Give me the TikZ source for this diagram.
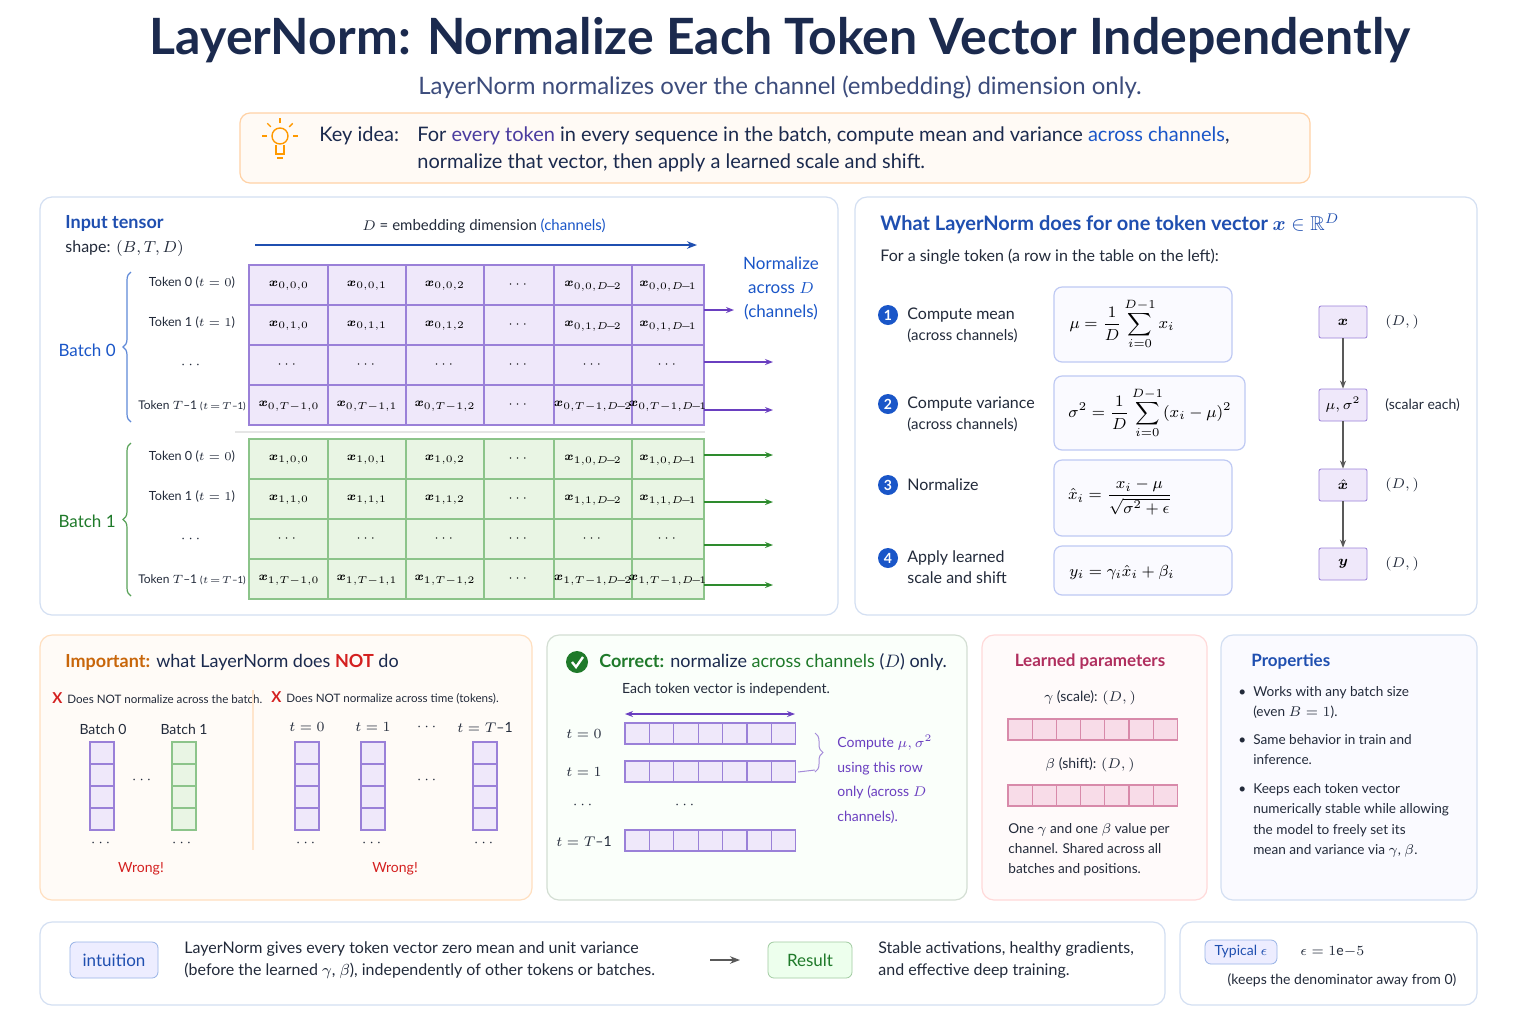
\documentclass[tikz,border=0pt]{standalone}
\usepackage{amsmath,amssymb,bm}
\usepackage{fontspec}
\setmainfont{Lato}
\usetikzlibrary{decorations.pathreplacing,arrows.meta,calc}
\definecolor{navy}{HTML}{1B2A4E}
\definecolor{subc}{HTML}{3C4C7C}
\definecolor{blueT}{HTML}{1F4FB0}
\definecolor{blueL}{HTML}{1A56C8}
\definecolor{purp}{HTML}{6A3FC0}
\definecolor{gridP}{HTML}{EFE8FA}
\definecolor{lineP}{HTML}{9A80D8}
\definecolor{gridG}{HTML}{E9F5E4}
\definecolor{lineG}{HTML}{8CC48A}
\definecolor{greenT}{HTML}{2E8B2E}
\definecolor{greenD}{HTML}{1F7A2A}
\definecolor{orangeT}{HTML}{C8660A}
\definecolor{redT}{HTML}{D42020}
\definecolor{magT}{HTML}{B02E5E}
\definecolor{panelB}{HTML}{D3DFF2}
\definecolor{pinkF}{HTML}{F8DCE8}
\definecolor{pinkL}{HTML}{D88AAA}
\definecolor{txt}{HTML}{222A3A}
\tikzset{
  every node/.style={inner sep=1pt},
  panel/.style={draw=panelB, fill=white, rounded corners=6pt, line width=0.6pt},
  fbox/.style={draw=panelB!90!blue, fill=blue!2, rounded corners=4pt, line width=0.6pt},
  lab/.style={font=\fontsize{7}{8.5}\selectfont, text=txt, inner sep=0pt},
  flow/.style={draw=lineP, fill=gridP, minimum width=24pt, minimum height=16pt, rounded corners=1pt, font=\fontsize{7.5}{9}\selectfont},
  num/.style={circle, fill=blueL, text=white, inner sep=0pt, minimum size=10pt, font=\bfseries\fontsize{7}{8}\selectfont},
  arrP/.style={-{Stealth[length=4pt]}, draw=purp, line width=0.7pt},
  arrG/.style={-{Stealth[length=4pt]}, draw=greenT, line width=0.7pt},
  cellt/.style={font=\fontsize{6.3}{7}\selectfont},
}
\begin{document}
\begin{tikzpicture}[x=0.5pt,y=-0.5pt]
\useasboundingbox (0,0) rectangle (1536,1024);
\fill[white] (0,0) rectangle (1536,1024);
% title
\node[font=\bfseries\fontsize{25}{28}\selectfont, text=navy] (title) at (780,40) {LayerNorm: Normalize Each Token Vector Independently};
\node[font=\fontsize{12}{14}\selectfont, text=subc] (sub) at (780,87) {LayerNorm normalizes over the channel (embedding) dimension only.};
% key idea
\draw[draw=orange!35, fill=orange!4, rounded corners=5pt, line width=0.6pt] (240,113) rectangle (1310,183);
\begin{scope}[draw=orange!80!yellow, line width=0.7pt]
\draw (280,136) circle (8);
\draw (276,145) -- (276,154) -- (284,154) -- (284,145);
\draw (277,158) -- (283,158);
\foreach \a in {0,45,90,135,180} \draw ($(280,136)+(\a+180:13)$) -- ($(280,136)+(\a+180:18)$);
\end{scope}
\node[anchor=west, font=\fontsize{10}{12}\selectfont, text=navy] (ki) at (317,136) {Key idea:};
\node[anchor=west, font=\fontsize{10}{12}\selectfont, text=navy] (k1) at (415,136) {For \textcolor{blueL!70!purple}{every token} in every sequence in the batch, compute mean and variance \textcolor{blueL}{across channels},};
\node[anchor=west, font=\fontsize{10}{12}\selectfont, text=navy] (k2) at (415,163) {normalize that vector, then apply a learned scale and shift.};
% left panel
\draw[panel] (40,197) rectangle (838,615);
\node[anchor=west, font=\bfseries\fontsize{9}{11}\selectfont, text=blueT] (it) at (63,223) {Input tensor};
\node[anchor=west, font=\fontsize{8}{10}\selectfont, text=txt] (sh) at (63,248) {shape: $(B,T,D)$};
\node[font=\fontsize{7.5}{9}\selectfont, text=txt] (dd) at (484,226) {$D$ = embedding dimension \textcolor{blueL}{(channels)}};
\coordinate (da) at (255,245); \coordinate (db) at (697,245);
\draw[-{Stealth[length=5pt]}, blueT, line width=0.7pt] (da) -- (db);
\node[align=center, font=\fontsize{8.5}{12}\selectfont, text=blueL] (nd) at (781,288) {Normalize\\across $D$\\(channels)};
\draw[gray!20, line width=1pt] (235,432) -- (705,432);
% grids
\foreach \b/\top/\fc/\lc in {0/265/gridP/lineP,1/439/gridG/lineG}{
  \fill[\fc] (249,\top) rectangle (704,\top+160);
  \foreach \r/\tt in {0/0,1/1,2/d,3/T-1}{
    \pgfmathsetmacro{\yt}{\top+40*\r}
    \pgfmathsetmacro{\yc}{\top+40*\r+20}
    \foreach \xl/\xr in {249/328,328/406,406/484,484/554,554/632,632/704}
      \draw[\lc, line width=0.6pt] (\xl,\yt) rectangle (\xr,\yt+40);
    \node[cellt] at (519,\yc) {$\cdots$};
    \ifnum\r=2
      \foreach \xc in {288,367,445,593,668} \node[cellt] at (\xc,\yc) {$\cdots$};
    \else
      \node[cellt] at (289,\yc+1) {$\bm{x}_{\b,\tt,0}$};
      \node[cellt] at (367,\yc+1) {$\bm{x}_{\b,\tt,1}$};
      \node[cellt] at (445,\yc+1) {$\bm{x}_{\b,\tt,2}$};
      \node[cellt] at (593,\yc+1) {$\bm{x}_{\b,\tt,D\!-\!2}$};
      \node[cellt] at (668,\yc+1) {$\bm{x}_{\b,\tt,D\!-\!1}$};
    \fi
  }
  \node[lab, anchor=center, font=\fontsize{6.3}{8}\selectfont] at (192,\top+18) {Token 0 ($t=0$)};
  \node[lab, anchor=center, font=\fontsize{6.3}{8}\selectfont] at (192,\top+58) {Token 1 ($t=1$)};
  \node[lab, anchor=center] at (192,\top+100) {$\cdots$};
  \node[lab, anchor=center, font=\fontsize{6}{8}\selectfont] at (192,\top+141) {Token $T$--1 {\fontsize{4.8}{6}\selectfont($t\!=\!T$--1)}};
}
\draw[decorate, decoration={brace, amplitude=4pt}, blueL!70, line width=0.6pt] (131,422) -- (131,272);
\draw[decorate, decoration={brace, amplitude=4pt}, greenT!80, line width=0.6pt] (131,596) -- (131,443);
\node[anchor=east, font=\fontsize{8.5}{11}\selectfont, text=blueL] (b0) at (118,350) {Batch 0};
\node[anchor=east, font=\fontsize{8.5}{11}\selectfont, text=greenD] (b1) at (118,521) {Batch 1};
\coordinate (p1a) at (704,310); \coordinate (p1b) at (734,310);
\coordinate (p2a) at (704,362); \coordinate (p2b) at (773,362);
\coordinate (p3a) at (704,410); \coordinate (p3b) at (773,410);
\draw[arrP] (p1a) -- (p1b); \draw[arrP] (p2a) -- (p2b); \draw[arrP] (p3a) -- (p3b);
\foreach \y in {455,502,545,585}{\coordinate (ga\y) at (704,\y); \coordinate (gb\y) at (773,\y); \draw[arrG] (ga\y) -- (gb\y);}
% right panel
\draw[panel] (855,197) rectangle (1477,615);
\node[anchor=west, font=\bfseries\fontsize{10}{12}\selectfont, text=blueT] (rt) at (878,224) {What LayerNorm does for one token vector $\bm{x}\in\mathbb{R}^D$};
\node[anchor=west, font=\fontsize{8}{10}\selectfont, text=txt] (rs) at (878,257) {For a single token (a row in the table on the left):};
\node[num] (n1) at (888,315) {1};
\node[num] (n2) at (888,404) {2};
\node[num] (n3) at (888,485) {3};
\node[num] (n4) at (888,558) {4};
\node[anchor=north west, align=left, font=\fontsize{8}{10.5}\selectfont, text=txt] at (905,305) {Compute mean\\{\fontsize{7.5}{10}\selectfont(across channels)}};
\node[anchor=north west, align=left, font=\fontsize{8}{10.5}\selectfont, text=txt] at (905,394) {Compute variance\\{\fontsize{7.5}{10}\selectfont(across channels)}};
\node[anchor=west, font=\fontsize{8}{10.5}\selectfont, text=txt] at (905,485) {Normalize};
\node[anchor=north west, align=left, font=\fontsize{8}{10.5}\selectfont, text=txt] at (905,548) {Apply learned\\scale and shift};
\draw[fbox] (1054,287) rectangle (1232,362);
\draw[fbox] (1054,376) rectangle (1245,450);
\draw[fbox] (1054,460) rectangle (1232,536);
\draw[fbox] (1054,546) rectangle (1232,595);
\node[font=\fontsize{8}{10}\selectfont] (f1) at (1122,324) {$\displaystyle\mu=\frac{1}{D}\sum_{i=0}^{D-1}x_i$};
\node[font=\fontsize{8}{10}\selectfont] (f2) at (1150,413) {$\displaystyle\sigma^2=\frac{1}{D}\sum_{i=0}^{D-1}(x_i-\mu)^2$};
\node[font=\fontsize{8}{10}\selectfont] (f3) at (1120,497) {$\displaystyle\hat{x}_i=\frac{x_i-\mu}{\sqrt{\sigma^2+\epsilon}}$};
\node[font=\fontsize{8}{10}\selectfont] (f4) at (1122,572) {$y_i=\gamma_i\hat{x}_i+\beta_i$};
\node[flow] (fx) at (1343,322) {$\bm{x}$};
\node[flow] (fm) at (1343,405) {$\mu,\sigma^2$};
\node[flow] (fh) at (1343,485) {$\hat{\bm{x}}$};
\node[flow] (fy) at (1343,564) {$\bm{y}$};
\foreach \a/\b in {fx/fm,fm/fh,fh/fy} \draw[-{Stealth[length=4pt]}, gray!70!black, line width=0.6pt] (\a) -- (\b);
\node[anchor=west, lab] at (1385,322) {$(D,)$};
\node[anchor=west, lab] at (1385,405) {(scalar each)};
\node[anchor=west, lab] at (1385,485) {$(D,)$};
\node[anchor=west, lab] at (1385,564) {$(D,)$};
% important panel
\draw[draw=orange!25, fill=orange!3, rounded corners=6pt, line width=0.6pt] (40,635) rectangle (532,900);
\node[anchor=west, font=\fontsize{9}{11}\selectfont, text=navy] (imp) at (63,662) {\textcolor{orangeT}{\bfseries Important:} what LayerNorm does \textcolor{redT}{\bfseries NOT} do};
\node[anchor=west, font=\fontsize{5.8}{8}\selectfont, text=txt] at (50,698) {\textcolor{redT}{\bfseries\fontsize{7.5}{8}\selectfont X}\, Does NOT normalize across the batch.};
\node[anchor=west, font=\fontsize{5.8}{8}\selectfont, text=txt] at (269,698) {\textcolor{redT}{\bfseries\fontsize{7.5}{8}\selectfont X}\, Does NOT normalize across time (tokens).};
\draw[orange!20, line width=0.6pt] (253,690) -- (253,850);
\newcommand\vcol[3]{\foreach \k in {0,1,2,3} \draw[#2, fill=#3, line width=0.6pt] (#1,742+22*\k) rectangle (#1+24,764+22*\k);}
\vcol{90}{lineP}{gridP}\vcol{172}{lineG}{gridG}
\vcol{295}{lineP}{gridP}\vcol{361}{lineP}{gridP}\vcol{473}{lineP}{gridP}
\node[lab] at (103,729) {Batch 0};
\node[lab] at (184,729) {Batch 1};
\node[lab] at (307,727) {$t=0$};
\node[lab] at (373,727) {$t=1$};
\node[lab] at (428,727) {$\cdots$};
\node[lab] at (485,727) {$t=T$--1};
\foreach \x in {143,428} \node[lab] at (\x,780) {$\cdots$};
\foreach \x in {102,183,307,373,485} \node[lab] at (\x,843) {$\cdots$};
\node[lab, text=redT] at (141,869) {Wrong!};
\node[lab, text=redT] at (395,869) {Wrong!};
% correct panel
\draw[draw=green!15!gray!30, fill=green!2, rounded corners=6pt, line width=0.6pt] (547,635) rectangle (967,900);
\node[circle, fill=greenD, minimum size=11pt, inner sep=0pt] (chk) at (577,662) {};
\draw[white, line width=1.2pt] (572,662) -- (576,667) -- (583,657);
\node[anchor=west, font=\fontsize{9}{11}\selectfont, text=navy] (cor) at (597,662) {\textcolor{greenD}{\bfseries Correct:} normalize \textcolor{greenD}{across channels} ($D$) only.};
\node[lab] at (726,690) {Each token vector is independent.};
\coordinate (ca) at (625,714); \coordinate (cb) at (795,714);
\draw[{Stealth[length=4pt]}-{Stealth[length=4pt]}, purp, line width=0.6pt] (ca) -- (cb);
\foreach \yy in {723,761,830} \foreach \k in {0,...,6} \draw[lineP, fill=gridP, line width=0.6pt] (625+24.4*\k,\yy) rectangle (625+24.4*\k+24.4,\yy+21);
\node[lab] at (584,734) {$t=0$};
\node[lab] at (584,772) {$t=1$};
\node[lab] at (584,805) {$\cdots$};
\node[lab] at (686,805) {$\cdots$};
\node[lab] at (584,841) {$t=T$--1};
\draw[decorate, decoration={brace, amplitude=4pt}, purp!60, line width=0.5pt] (815,733) -- (815,772);
\coordinate (bl) at (798,772); \coordinate (br) at (815,770);
\draw[purp!60, line width=0.5pt] (bl) -- (br);
\node[anchor=north west, align=left, font=\fontsize{7}{12.2}\selectfont, text=purp, inner sep=0pt] at (837,735) {Compute $\mu,\sigma^2$\\using this row\\only (across $D$\\channels).};
% learned
\draw[draw=pink!60, fill=pink!8, rounded corners=6pt, line width=0.6pt] (982,635) rectangle (1207,900);
\node[font=\bfseries\fontsize{8.5}{10}\selectfont, text=magT] at (1090,662) {Learned parameters};
\node[lab] at (1090,698) {$\gamma$ (scale): $(D,)$};
\node[lab] at (1090,765) {$\beta$ (shift): $(D,)$};
\foreach \yy in {719,785} \foreach \k in {0,...,6} \draw[pinkL, fill=pinkF, line width=0.6pt] (1008+24.2*\k,\yy) rectangle (1008+24.2*\k+24.2,\yy+21);
\node[anchor=north west, align=left, font=\fontsize{6.8}{10}\selectfont, text=txt, inner sep=0pt] at (1008,823) {One $\gamma$ and one $\beta$ value per\\channel. Shared across all\\batches and positions.};
% properties
\draw[draw=panelB, fill=blue!2, rounded corners=6pt, line width=0.6pt] (1221,635) rectangle (1477,900);
\node[anchor=west, font=\bfseries\fontsize{8.5}{10}\selectfont, text=blueT] at (1249,662) {Properties};
\node[anchor=north west, align=left, font=\fontsize{6.8}{10.2}\selectfont, text=txt, inner sep=0pt] at (1238,686) {\textbullet\ \ Works with any batch size\\\phantom{\textbullet\ \ }(even $B=1$).};
\node[anchor=north west, align=left, font=\fontsize{6.8}{10.2}\selectfont, text=txt, inner sep=0pt] at (1238,734) {\textbullet\ \ Same behavior in train and\\\phantom{\textbullet\ \ }inference.};
\node[anchor=north west, align=left, font=\fontsize{6.8}{10.2}\selectfont, text=txt, inner sep=0pt] at (1238,783) {\textbullet\ \ Keeps each token vector\\\phantom{\textbullet\ \ }numerically stable while allowing\\\phantom{\textbullet\ \ }the model to freely set its\\\phantom{\textbullet\ \ }mean and variance via $\gamma$, $\beta$.};
% bottom
\draw[panel] (40,922) rectangle (1165,1005);
\draw[panel] (1180,922) rectangle (1477,1005);
\node[draw=blueL!45, fill=blue!7, rounded corners=3pt, minimum width=44pt, minimum height=18pt, font=\fontsize{8.5}{10}\selectfont, text=blueT] (int) at (114,960) {intuition};
\node[anchor=west, align=left, font=\fontsize{8}{11}\selectfont, text=txt, inner sep=0pt] (itx) at (184,960) {LayerNorm gives every token vector zero mean and unit variance\\(before the learned $\gamma$, $\beta$), independently of other tokens or batches.};
\node[draw=greenT!45, fill=green!7, rounded corners=3pt, minimum width=42pt, minimum height=18pt, font=\fontsize{8.5}{10}\selectfont, text=greenD] (res) at (810,960) {Result};
\coordinate (ra) at (710,960); \coordinate (rb) at (740,960);
\draw[-{Stealth[length=5pt]}, gray!70!black, line width=0.7pt] (ra) -- (rb);
\node[anchor=west, align=left, font=\fontsize{8}{11}\selectfont, text=txt, inner sep=0pt] (rtx) at (878,960) {Stable activations, healthy gradients,\\and effective deep training.};
\node[draw=blueL!45, fill=blue!7, rounded corners=3pt, minimum width=36pt, minimum height=12pt, font=\fontsize{7}{8}\selectfont, text=blueT] (te) at (1241,952) {Typical $\epsilon$};
\node[anchor=west, lab] at (1300,952) {$\epsilon=1\mathrm{e}{-}5$};
\node[lab] at (1342,980) {(keeps the denominator away from 0)};
\end{tikzpicture}
\end{document}
